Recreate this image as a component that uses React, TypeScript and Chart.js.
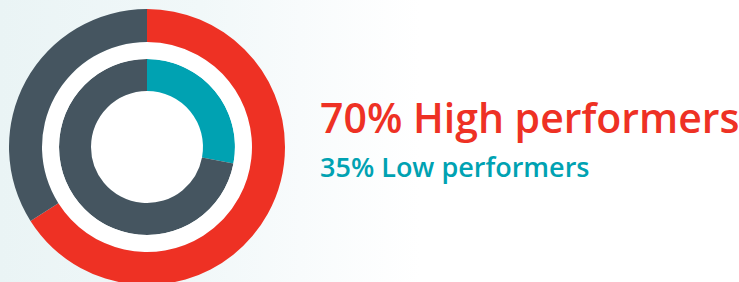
import React, { useEffect, useRef } from "react";
import { Chart, registerables } from "chart.js";

Chart.register(...registerables);

const highLabel = "70% High performers";
const lowLabel = "35% Low performers";
const outerSegments = ["High performers", "Others"];
const outerValues = [66, 34];
const innerSegments = ["Low performers", "Others"];
const innerValues = [28, 72];

const RED = "#EE3124";
const SLATE = "#455560";
const TEAL = "#00A2B2";

export default function App() {
  const ref = useRef<HTMLCanvasElement | null>(null);

  useEffect(() => {
    document.body.style.margin = "0";
    const ctx = ref.current!;
    const chart = new Chart(ctx, {
      type: "doughnut",
      data: {
        labels: outerSegments,
        datasets: [
          {
            data: outerValues,
            backgroundColor: [RED, SLATE],
            borderWidth: 0,
            weight: 33,
          },
          {
            data: [1],
            backgroundColor: ["#FFFFFF"],
            borderWidth: 0,
            weight: 17,
          },
          {
            data: innerValues,
            backgroundColor: [TEAL, SLATE],
            borderWidth: 0,
            weight: 32,
          },
          {
            data: [1],
            backgroundColor: ["#FFFFFF"],
            borderWidth: 0,
            weight: 56,
          },
        ],
      },
      options: {
        responsive: false,
        animation: false,
        cutout: 0,
        layout: { padding: 0 },
        plugins: {
          legend: { display: false },
          tooltip: { enabled: false },
        },
        events: [],
      },
    });
    return () => chart.destroy();
  }, []);

  return (
    <div
      style={{
        position: "fixed",
        left: 0,
        top: 0,
        width: 739,
        height: 282,
        overflow: "hidden",
        background: "linear-gradient(to right, #EAF4F5 0px, #F1F8F9 200px, #F8FBFC 300px, #FFFFFF 420px)",
      }}
    >
      <canvas
        ref={ref}
        width={276}
        height={276}
        style={{ position: "absolute", left: 8.5, top: 8.5, width: 276, height: 276 }}
      />
      <div
        style={{
          position: "absolute",
          left: 320,
          top: 96.6,
          fontFamily: "'Open Sans', sans-serif",
          fontWeight: 600,
          fontSize: 41,
          lineHeight: "41px",
          color: RED,
          whiteSpace: "nowrap",
        }}
      >
        {highLabel}
      </div>
      <div
        style={{
          position: "absolute",
          left: 320,
          top: 153,
          fontFamily: "'Open Sans', sans-serif",
          fontWeight: 600,
          fontSize: 27,
          lineHeight: "27px",
          color: TEAL,
          whiteSpace: "nowrap",
        }}
      >
        {lowLabel}
      </div>
    </div>
  );
}
